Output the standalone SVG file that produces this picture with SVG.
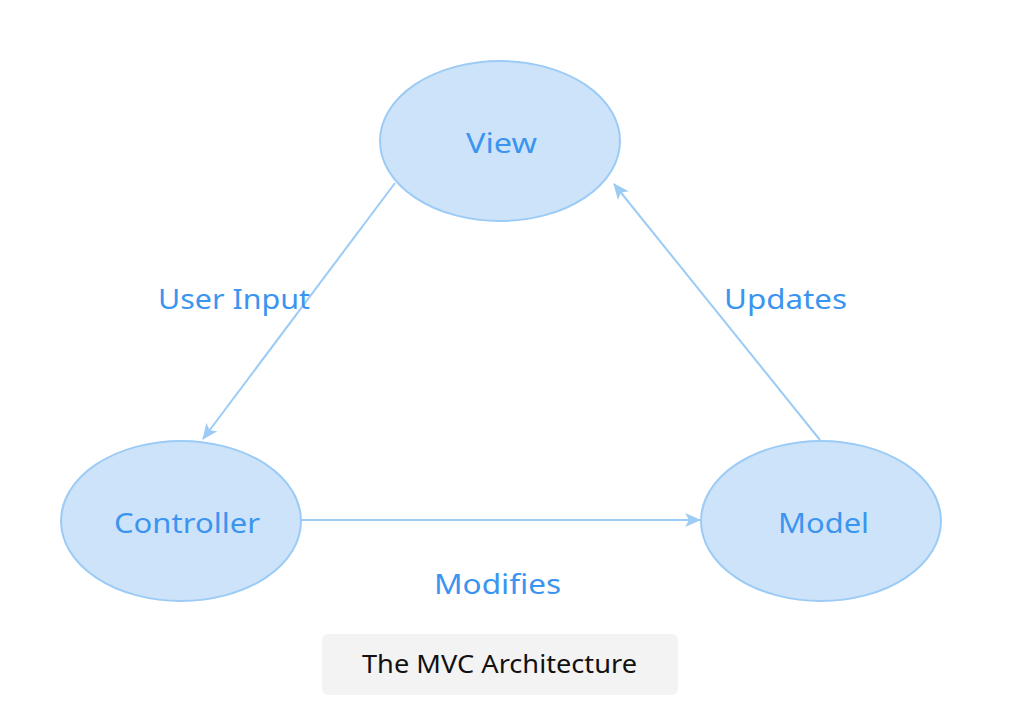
<svg xmlns="http://www.w3.org/2000/svg" width="1012" height="724" viewBox="0 0 1012 724">
<style>
.node ellipse{fill:#cde3fa;stroke:#9ccbf5;stroke-width:2}
.nt{font-family:"Noto Sans","Liberation Sans",sans-serif;font-size:28px;fill:#3b95ef}
.lbl{font-family:"Noto Sans","Liberation Sans",sans-serif;font-size:27px;fill:#3b95ef}
.edge{stroke:#9ccbf5;stroke-width:2;fill:none}
</style>
<defs>
<marker id="ah" viewBox="0 0 16 14" refX="15" refY="7" markerWidth="16" markerHeight="14" markerUnits="userSpaceOnUse" orient="auto">
<path d="M0,0 L16,7 L0,14 L4,7 Z" fill="#9ccbf5"/>
</marker>
</defs>
<rect width="1012" height="724" fill="#ffffff"/>
<g id="connectors">
<line class="edge" x1="395" y1="183" x2="203" y2="439" marker-end="url(#ah)"/>
<line class="edge" x1="820" y1="440" x2="614" y2="184" marker-end="url(#ah)"/>
<line class="edge" x1="302" y1="520" x2="700" y2="520" marker-end="url(#ah)"/>
<text class="lbl" x="158" y="309" textLength="152" lengthAdjust="spacingAndGlyphs">User Input</text>
<text class="lbl" x="724" y="309" textLength="123" lengthAdjust="spacingAndGlyphs">Updates</text>
<text class="lbl" x="434" y="594" textLength="127" lengthAdjust="spacingAndGlyphs">Modifies</text>
</g>
<g id="view" class="node">
<ellipse cx="500" cy="141" rx="120" ry="80"/>
<text class="nt" x="466" y="153" textLength="71" lengthAdjust="spacingAndGlyphs">View</text>
</g>
<g id="controller" class="node">
<ellipse cx="181" cy="521" rx="120" ry="80"/>
<text class="nt" x="114" y="533" textLength="146" lengthAdjust="spacingAndGlyphs">Controller</text>
</g>
<g id="model" class="node">
<ellipse cx="821" cy="521" rx="120" ry="80"/>
<text class="nt" x="778" y="533" textLength="91" lengthAdjust="spacingAndGlyphs">Model</text>
</g>
<g id="caption">
<rect x="322" y="634" width="356" height="61" rx="6" fill="#f3f3f3"/>
<text x="362" y="673" font-family="Noto Sans, Liberation Sans, sans-serif" font-size="25" fill="#111" textLength="275" lengthAdjust="spacingAndGlyphs">The MVC Architecture</text>
</g>
</svg>
